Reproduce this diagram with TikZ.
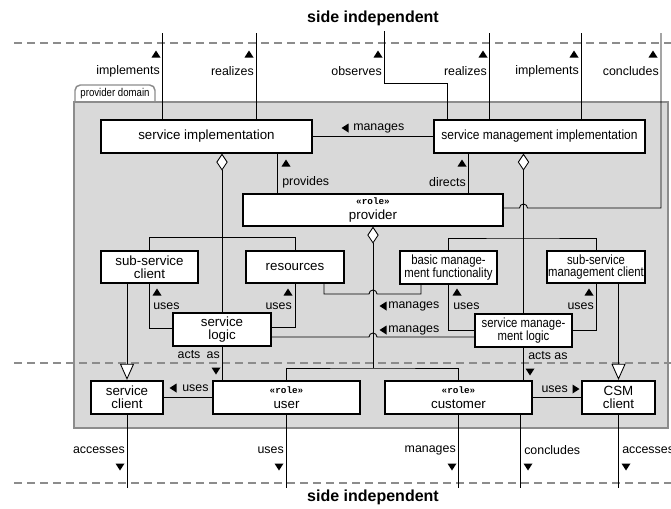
\documentclass[tikz,border=0pt]{standalone}
\usepackage{fontspec}
\setmainfont{Liberation Sans}
\setmonofont{Liberation Mono}
\newfontfamily\narrowA[FakeStretch=0.9]{Liberation Sans}
\newfontfamily\narrowB[FakeStretch=0.85]{Liberation Sans}
\usetikzlibrary{arrows.meta,calc}
\newcommand{\rolefont}{\ttfamily\bfseries\fontsize{7}{8}\selectfont}
\newcommand{\rl}{{\rolefont «role»}\\[2pt]}
\tikzset{
  box/.style={draw, line width=0.9pt, fill=white, inner sep=0pt, align=center,
    font=\fontsize{10}{9.5}\selectfont},
  nbox/.style={box, font=\narrowB\fontsize{10}{9.5}\selectfont},
  thickbox/.style={box, line width=1.7pt},
  conn/.style={line width=0.65pt},
  lbl/.style={inner sep=0pt, font=\fontsize{9.3}{11}\selectfont},
  ttl/.style={inner sep=0pt, font=\bfseries\fontsize{12}{14}\selectfont},
  sidedash/.style={draw=black!45, line width=1.1pt, dash pattern=on 6pt off 3.75pt},
  comp/.style={conn, {Diamond[fill=white,length=12.75pt,width=8.5pt]}-},
  gen/.style={conn, -{Triangle[fill=white,length=12pt,width=10.5pt]}},
  pics/triup/.style={code={\fill (-4.5,3.5) -- (4.5,3.5) -- (0,-3.5) -- cycle;}},
  pics/tridown/.style={code={\fill (-4.5,-3.5) -- (4.5,-3.5) -- (0,3.5) -- cycle;}},
  pics/trileft/.style={code={\fill (3.5,-4.5) -- (3.5,4.5) -- (-3.5,0) -- cycle;}},
  pics/triright/.style={code={\fill (-3.5,-4.5) -- (-3.5,4.5) -- (3.5,0) -- cycle;}},
}
\begin{document}
\begin{tikzpicture}[x=0.75pt,y=-0.75pt]
\useasboundingbox (0,0) rectangle (671,508);
% titles
\node[ttl] (ttop) at (373,18) {side independent};
\node[ttl] (tbot) at (373,497) {side independent};
% provider domain
\draw[draw=black!45, line width=1.1pt, fill=white, rounded corners=4] (75,103) -- (75,85) -- (155,85) -- (155,103);
\node[inner sep=0pt, font=\narrowB\fontsize{8.5}{10}\selectfont] (pdl) at (115,94) {provider domain};
\draw[draw=black!45, line width=1.5pt, fill=black!15] (74,102) rectangle (668,428);
% dashed side lines
\draw[sidedash] (14,43) -- (671,43);
\draw[sidedash] (14,363) -- (671,363);
\draw[sidedash] (14,483) -- (671,483);
% boxes
\node[box, minimum width=158.25pt, minimum height=24.75pt] (si) at (206.5,136.5) {service implementation};
\node[box, font=\narrowA\fontsize{10}{9.5}\selectfont, minimum width=158.25pt, minimum height=24.75pt] (smi) at (539.5,136.5) {service management implementation};
\node[box, minimum width=195pt, minimum height=24pt] (prov) at (373,210) {\rl provider};
\node[box, minimum width=72.75pt, minimum height=24pt] (ssc) at (149.5,267) {sub-service\\client};
\node[box, minimum width=73.5pt, minimum height=24pt] (res) at (295,267) {resources};
\node[nbox, minimum width=72.75pt, minimum height=24.75pt] (bmf) at (448.5,267.5) {basic manage-\\ment functionality};
\node[nbox, minimum width=73.5pt, minimum height=24pt] (ssmc) at (596,267) {sub-service\\management client};
\node[box, minimum width=73.5pt, minimum height=24.75pt] (sl) at (222,329.5) {service\\logic};
\node[nbox, minimum width=72.75pt, minimum height=24.75pt] (sml) at (523.5,330.5) {service manage-\\ment logic};
\node[thickbox, minimum width=54pt, minimum height=24.75pt] (sc) at (127,397.5) {service\\client};
\node[box, minimum width=110.25pt, minimum height=24.75pt] (user) at (286.5,397.5) {\rl user};
\node[box, minimum width=110.25pt, minimum height=24.75pt] (cust) at (458.5,397.5) {\rl customer};
\node[thickbox, minimum width=54.75pt, minimum height=24.75pt] (csm) at (618.5,397.5) {CSM\\client};
% top connectors
\coordinate (tA) at (162,33);
\coordinate (tB) at (256,33);
\coordinate (tC) at (384,31);
\coordinate (tCb) at (447,83);
\coordinate (tD) at (489,33);
\coordinate (tE) at (581,33);
\coordinate (tF) at (661,33);
\coordinate (jF) at (523.5,208);
\draw[conn] (tA) -- (tA |- si.north);
\draw[conn] (tB) -- (tB |- si.north);
\draw[conn] (tC) |- (tCb) -- (tCb |- smi.north);
\draw[conn] (tD) -- (tD |- smi.north);
\draw[conn] (tE) -- (tE |- smi.north);
\draw[conn] (tF) |- ($(jF)+(4,0)$) arc (360:180:4) -- (prov.east |- jF);
\pic at (156,54) {triup};   \node[lbl, anchor=east] (l1) at (160,71) {implements};
\pic at (249,54) {triup};   \node[lbl, anchor=east] (l2) at (254,71) {realizes};
\pic at (378,54) {triup};   \node[lbl, anchor=east] (l3) at (382,71) {observes};
\pic at (483,54) {triup};   \node[lbl, anchor=east] (l4) at (487,71) {realizes};
\pic at (574,54) {triup};   \node[lbl, anchor=east] (l5) at (579,71) {implements};
\pic at (653,54) {triup};   \node[lbl, anchor=east] (l6) at (659,71) {concludes};
% manages (top)
\draw[conn] (smi.west) -- (si.east);
\pic at (345,128) {trileft}; \node[lbl, anchor=west] (l7) at (353,128) {manages};
% provides / directs
\coordinate (xp) at (277,0);
\coordinate (xd) at (468,0);
\draw[conn] (si.south -| xp) -- (prov.north -| xp);
\draw[conn] (smi.south -| xd) -- (prov.north -| xd);
\pic at (286,163) {triup}; \node[lbl, anchor=west] (l8) at (282,182) {provides};
\pic at (462,163) {triup}; \node[lbl, anchor=east] (l9) at (466,182) {directs};
% compositions
\coordinate (jSI) at (222,237);
\draw[comp] (si.south -| jSI) -- (sl.north);
\draw[conn] (ssc.north) |- (jSI);
\draw[conn] (res.north) |- (jSI);
\coordinate (jP) at (373,368);
\draw[comp] (prov.south) -- (jP);
\draw[conn] (user.north) |- (jP) -| (cust.north);
\coordinate (jS) at (523.5,238);
\draw[comp] (smi.south -| sml.north) -- (sml.north);
\draw[conn] (bmf.north) |- (jS) -| (ssmc.north);
% uses (middle)
\draw[conn] (ssc.south) |- ($(sl.west)+(0,-1.5)$);
\draw[conn] (res.south) |- ($(sl.east)+(0,-2.5)$);
\draw[conn] (bmf.south) |- (sml.west);
\draw[conn] (ssmc.south) |- (sml.east);
\pic at (157,292) {triup}; \node[lbl, anchor=west] (l10) at (153,306) {uses};
\pic at (288,292) {triup}; \node[lbl, anchor=east] (l11) at (292,306) {uses};
\pic at (457,292) {triup}; \node[lbl, anchor=west] (l12) at (453,306) {uses};
\pic at (589,292) {triup}; \node[lbl, anchor=east] (l13) at (594,306) {uses};
% manages (middle)
\coordinate (jM1) at (373,294);
\coordinate (jM2) at (373,337);
\draw[conn] ($(res.south)+(29,0)$) |- ($(jM1)+(-4,0)$) arc (180:360:4) -| ($(bmf.south)+(-27.5,0)$);
\draw[conn] ($(sl.east)+(0,7.5)$) -- ($(jM2)+(-4,0)$) arc (180:360:4) -- (sml.west |- jM2);
\pic at (383,306) {trileft}; \node[lbl, anchor=west] (l14) at (388,306) {manages};
\pic at (383,330) {trileft}; \node[lbl, anchor=west] (l15) at (388,330) {manages};
% acts as
\draw[conn] (sl.south) -- (sl.south |- user.north);
\draw[conn] (sml.south) -- (sml.south |- cust.north);
\node[lbl, anchor=east] (l16) at (220,355) {acts\enspace as};
\pic at (216,371) {tridown};
\node[lbl, anchor=west] (l17) at (528,356) {acts as};
\pic at (530,372) {tridown};
% generalisations
\draw[gen] ($(ssc.south)+(-22.5,0)$) -- (sc.north);
\draw[gen] ($(ssmc.south)+(22.5,0)$) -- (csm.north);
% uses (bottom)
\draw[conn] (user.west) -- (sc.east);
\draw[conn] (cust.east) -- (csm.west);
\pic at (173,388) {trileft}; \node[lbl, anchor=west] (l18) at (182,388) {uses};
\pic at (576,389) {triright}; \node[lbl, anchor=east] (l19) at (568,389) {uses};
% bottom connectors
\coordinate (bot) at (0,488);
\coordinate (cc) at ($(cust.south)+(61.5,0)$);
\draw[conn] (sc.south) -- (sc.south |- bot);
\draw[conn] (user.south) -- (user.south |- bot);
\draw[conn] (cust.south) -- (cust.south |- bot);
\draw[conn] (cc) -- (cc |- bot);
\draw[conn] (csm.south) -- (csm.south |- bot);
\node[lbl, anchor=east] (l20) at (125,450) {accesses}; \pic at (120,467) {tridown};
\node[lbl, anchor=east] (l21) at (284,450) {uses};     \pic at (279,467) {tridown};
\node[lbl, anchor=east] (l22) at (456,450) {manages};  \pic at (452,467) {tridown};
\node[lbl, anchor=west] (l23) at (524,450) {concludes};\pic at (528,467) {tridown};
\node[lbl, anchor=west] (l24) at (622,450) {accesses}; \pic at (626,467) {tridown};
\end{tikzpicture}
\end{document}
